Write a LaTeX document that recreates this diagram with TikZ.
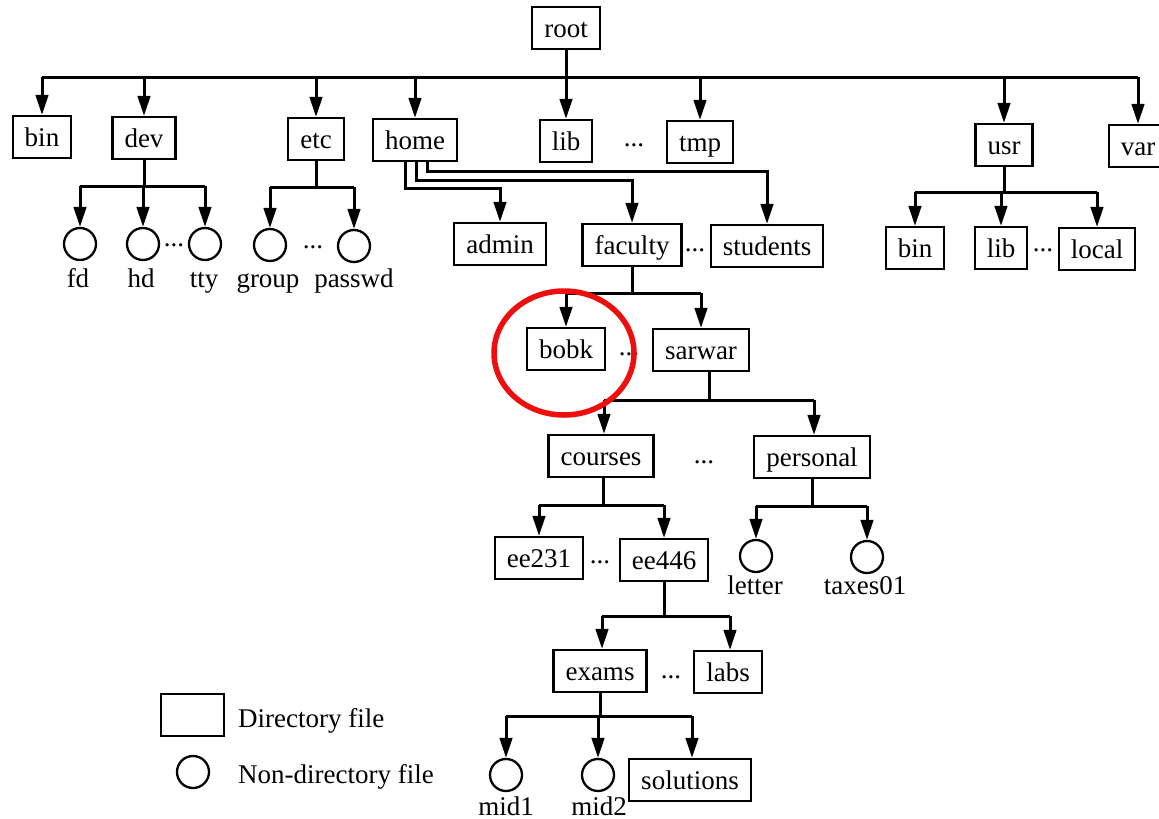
\documentclass[tikz,border=0pt]{standalone}
\usepackage{fontspec}
\setmainfont{Liberation Serif}
\usetikzlibrary{arrows.meta}
\definecolor{ringred}{RGB}{238,14,14}
\begin{document}
\begin{tikzpicture}[x=1pt,y=-1pt,
  txt/.style={font=\fontsize{27}{30}\selectfont},
  dir/.style={txt, draw, line width=2.3pt, minimum height=42pt, inner xsep=12pt, inner ysep=0pt, text height=19pt, text depth=0pt},
  fil/.style={draw, circle, line width=2.3pt, minimum size=32pt, inner sep=0pt},
  lbl/.style={txt, anchor=base, inner sep=0pt},
  dts/.style={txt, anchor=base, inner sep=0pt},
  conn/.style={line width=3pt},
  arr/.style={conn, -{Triangle[length=20pt,width=12.5pt]}},
]
\useasboundingbox (0,0) rectangle (1159,819);

% ---------- nodes ----------
\node[dir] (root) at (566,28) {root};

\node[dir] (bin) at (42,137) {bin};
\node[dir] (dev) at (144,138) {dev};
\node[dir] (etc) at (316,139) {etc};
\node[dir] (home) at (415,140) {home};
\node[dir] (lib) at (566,141) {lib};
\node[dts] (d1) at (634,146) {...};
\node[dir] (tmp) at (700,142) {tmp};
\node[dir] (usr) at (1004,145) {usr};
\node[dir] (var) at (1138,146) {var};

\node[fil] (fd) at (80,244) {};
\node[fil] (hd) at (143,244) {};
\node[dts] (d2) at (174,246) {...};
\node[fil] (tty) at (205,244) {};
\node[fil] (group) at (270,245) {};
\node[dts] (d3) at (313,248) {...};
\node[fil] (passwd) at (354,246) {};
\node[lbl] (fdl) at (78,287) {fd};
\node[lbl] (hdl) at (141,287) {hd};
\node[lbl] (ttyl) at (204,287) {tty};
\node[lbl] (groupl) at (268,287) {group};
\node[lbl] (passwdl) at (354,287) {passwd};

\node[dir] (admin) at (500,244) {admin};
\node[dir] (faculty) at (632,245) {faculty};
\node[dts] (d4) at (695,251) {...};
\node[dir] (students) at (767,246) {students};

\node[dir] (ubin) at (915,248) {bin};
\node[dir] (ulib) at (1001,248) {lib};
\node[dts] (d5) at (1043,251) {...};
\node[dir] (local) at (1097,249) {local};

\node[dir] (bobk) at (566,349) {bobk};
\node[dts] (d6) at (629,355) {...};
\node[dir] (sarwar) at (701,350) {sarwar};

\node[dir] (courses) at (601,456) {courses};
\node[dts] (d7) at (704,463) {...};
\node[dir] (personal) at (812,457) {personal};

\node[dir] (ee231) at (539,558) {ee231};
\node[dts] (d8) at (600,563) {...};
\node[dir] (ee446) at (664,560) {ee446};

\node[fil] (letter) at (756,556) {};
\node[fil] (taxes) at (867,557) {};
\node[lbl] (letterl) at (755,594) {letter};
\node[lbl] (taxesl) at (865,594) {taxes01};

\node[dir] (exams) at (600,671) {exams};
\node[dts] (d9) at (671,678) {...};
\node[dir] (labs) at (728,672) {labs};

\node[fil] (mid1) at (506,775) {};
\node[fil] (mid2) at (598,775) {};
\node[dir] (solutions) at (690,780) {solutions};
\node[lbl] (mid1l) at (506,815) {mid1};
\node[lbl] (mid2l) at (599,815) {mid2};

% legend
\node[draw, line width=2.3pt, minimum width=63pt, minimum height=42pt, inner sep=0pt] (legdir) at (192.5,715) {};
\node[txt, anchor=base west, inner sep=0pt] (legdirt) at (238,727) {Directory file};
\node[fil] (legfil) at (193,772) {};
\node[txt, anchor=base west, inner sep=0pt] (legfilt) at (238,783) {Non-directory file};

% ---------- connectors ----------
\coordinate (rb) at (0,77);
\draw[conn] (bin.north |- rb) -- (var.north |- rb);
\draw[arr] (root.south) -- (lib.north);
\foreach \c in {bin,dev,etc,home,tmp,usr,var}
  \draw[arr] (\c.north |- rb) -- (\c.north);

\coordinate (db) at (0,186);
\draw[conn] (dev.south) -- (dev.south |- db);
\draw[conn] (fd.north |- db) -- (tty.north |- db);
\foreach \c in {fd,hd,tty}
  \draw[arr] (\c.north |- db) -- (\c.north);

\coordinate (eb) at (0,187);
\draw[conn] (etc.south) -- (etc.south |- eb);
\draw[conn] (group.north |- eb) -- (passwd.north |- eb);
\foreach \c in {group,passwd}
  \draw[arr] (\c.north |- eb) -- (\c.north);

\draw[arr] ([xshift=-10pt]home.south) |- (admin.north |- 0,188) -- (admin.north);
\draw[arr] ([xshift=1pt]home.south) |- (faculty.north |- 0,180) -- (faculty.north);
\draw[arr] ([xshift=12pt]home.south) |- (students.north |- 0,171) -- (students.north);

\coordinate (ub) at (0,192);
\draw[conn] (usr.south) -- (usr.south |- ub);
\draw[conn] (ubin.north |- ub) -- (local.north |- ub);
\foreach \c in {ubin,ulib,local}
  \draw[arr] (\c.north |- ub) -- (\c.north);

\coordinate (fb) at (0,293);
\draw[conn] (faculty.south) -- (faculty.south |- fb);
\draw[conn] (bobk.north |- fb) -- (sarwar.north |- fb);
\foreach \c in {bobk,sarwar}
  \draw[arr] (\c.north |- fb) -- (\c.north);

\coordinate (sb) at (0,400);
\draw[conn] ([xshift=8pt]sarwar.south) -- ([xshift=8pt]sarwar.south |- sb);
\draw[conn] ([xshift=3pt]courses.north |- sb) -- ([xshift=2pt]personal.north |- sb);
\draw[arr] ([xshift=3pt]courses.north |- sb) -- ([xshift=3pt]courses.north);
\draw[arr] ([xshift=2pt]personal.north |- sb) -- ([xshift=2pt]personal.north);

\coordinate (cb) at (0,505);
\draw[conn] ([xshift=2pt]courses.south) -- ([xshift=2pt]courses.south |- cb);
\draw[conn] (ee231.north |- cb) -- (ee446.north |- cb);
\foreach \c in {ee231,ee446}
  \draw[arr] (\c.north |- cb) -- (\c.north);

\coordinate (pb) at (0,506);
\draw[conn] (personal.south) -- (personal.south |- pb);
\draw[conn] (letter.north |- pb) -- (taxes.north |- pb);
\foreach \c in {letter,taxes}
  \draw[arr] (\c.north |- pb) -- (\c.north);

\coordinate (eeb) at (0,616);
\draw[conn] (ee446.south) -- (ee446.south |- eeb);
\draw[conn] ([xshift=2pt]exams.north |- eeb) -- ([xshift=2pt]labs.north |- eeb);
\draw[arr] ([xshift=2pt]exams.north |- eeb) -- ([xshift=2pt]exams.north);
\draw[arr] ([xshift=2pt]labs.north |- eeb) -- ([xshift=2pt]labs.north);

\coordinate (xb) at (0,716);
\draw[conn] (exams.south) -- (exams.south |- xb);
\draw[conn] (mid1.north |- xb) -- ([xshift=2pt]solutions.north |- xb);
\draw[arr] (mid1.north |- xb) -- (mid1.north);
\draw[arr] (mid2.north |- xb) -- (mid2.north);
\draw[arr] ([xshift=2pt]solutions.north |- xb) -- ([xshift=2pt]solutions.north);

% red highlight ring
\draw[ringred, line width=5.5pt] (bobk.center) ++(-2,4) ellipse (70 and 62);
\end{tikzpicture}
\end{document}
